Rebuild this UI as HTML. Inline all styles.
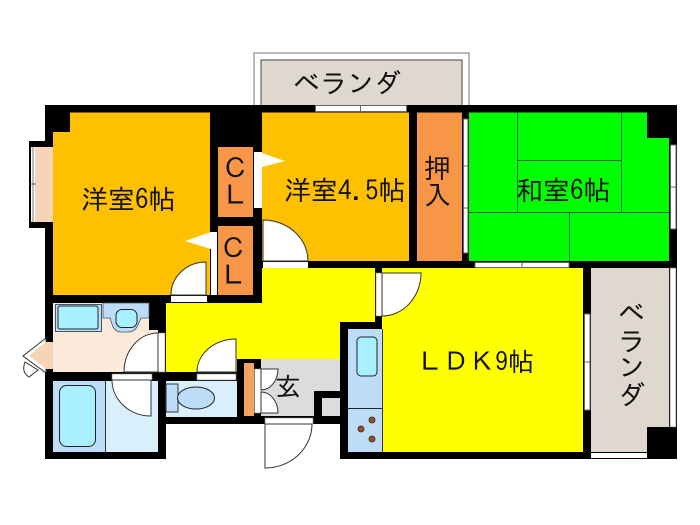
<!DOCTYPE html>
<html><head><meta charset="utf-8"><style>
html,body{margin:0;padding:0;background:#fff}
svg{display:block;filter:blur(.35px)}
text{font-family:"IPAGothic","Liberation Sans","Noto Sans CJK JP",sans-serif;font-size:27px;fill:#111}
</style></head><body>
<svg width="700" height="525" viewBox="0 0 700 525" xmlns="http://www.w3.org/2000/svg">
<!-- top veranda -->
<rect x="254" y="53" width="215" height="54" fill="#fff" stroke="#777" stroke-width="1"/>
<rect x="261" y="60" width="201" height="46" fill="#dfd8cf" stroke="#444" stroke-width="1"/>
<!-- building black -->
<polygon points="45,105 677,105 677,459 340,459 340,424 166,424 166,459 45,459" fill="#000"/>
<!-- left window -->
<rect x="29" y="141" width="17" height="87" fill="#000"/>
<rect x="31" y="147" width="22" height="75" fill="#fff"/>
<rect x="35" y="147" width="18" height="75" fill="#f5d5b5"/>
<line x1="33" y1="147" x2="33" y2="222" stroke="#777"/>
<line x1="30" y1="184" x2="36" y2="184" stroke="#555"/>
<!-- left door -->
<polygon points="46,338 23,356 46,373" fill="#fff" stroke="#333"/>
<polygon points="53,342 46,342 29,355.500 46,369 53,369" fill="#f5d5b5"/>
<path d="M25,362 Q21,372 29,377 L38,370 Z" fill="#fff" stroke="#333"/>
<!-- rooms -->
<polygon points="70,112.500 210,112.500 210,295 53,295 53,132 70,132" fill="#ffc000"/>
<rect x="262" y="112.500" width="147" height="148.500" fill="#ffc000"/>
<rect x="218" y="147" width="35" height="70" fill="#f79646"/>
<rect x="218" y="226" width="35" height="69" fill="#f79646"/>
<rect x="417" y="112.500" width="45" height="148.500" fill="#f79646"/>
<!-- green room -->
<polygon points="469,112.500 647,112.500 647,138 669,138 669,261 469,261" fill="#00ff00"/>
<g stroke="#063" stroke-width="1" fill="none">
<line x1="517.500" y1="112" x2="517.500" y2="212"/>
<line x1="621.500" y1="112" x2="621.500" y2="212"/>
<line x1="517" y1="160.500" x2="621" y2="160.500"/>
<line x1="469" y1="212.500" x2="669" y2="212.500"/>
<line x1="569.500" y1="212" x2="569.500" y2="261"/>
</g>
<!-- hall + LDK -->
<polygon points="166,303 262,303 262,268 375,268 375,322 340,322 340,359 237,359 237,372 166,372" fill="#ffff00"/>
<polygon points="382,268 583,268 583,452 382,452" fill="#ffff00"/>
<!-- right veranda -->
<polygon points="591,268 669,268 669,427 647,427 647,452 591,452" fill="#dfd8cf"/>
<rect x="670" y="268" width="6" height="159" fill="#fff" stroke="#666" stroke-width=".6"/>
<rect x="591" y="453" width="56" height="5" fill="#fff"/>
<!-- windows -->
<g fill="#fff" stroke="#666" stroke-width="1">
<rect x="315.500" y="105.500" width="91" height="6"/>
<rect x="463.500" y="119" width="4.500" height="134"/>
<rect x="670.500" y="145" width="5.500" height="84"/>
<rect x="475" y="262.500" width="94" height="5"/>
<rect x="584.500" y="314" width="5.500" height="96"/>
<path d="M360.500,105 V112 M463,166 H468 M463,208 H468 M670,187 H676 M522,262 V268 M584,362 H590" fill="none"/>
</g>
<!-- closet door strips & triangles -->
<rect x="211" y="232" width="6" height="63" fill="#fff"/>
<rect x="254" y="152" width="8" height="56" fill="#fff"/>
<polygon points="185,241 211,232 211,249" fill="#fff"/>
<polygon points="262,153 285,161 262,167" fill="#fff"/>
<!-- door room 1 -->
<rect x="171" y="296" width="36" height="6" fill="#fff"/>
<path d="M206,295 L171,295 A35,33 0 0 1 206,262 Z" fill="#fff" stroke="#333"/>
<!-- door room 4.5 -->
<rect x="263" y="262" width="45" height="6" fill="#fff"/>
<path d="M263,261 L263,220 A45,41 0 0 1 308,261 Z" fill="#fff" stroke="#333"/>
<!-- LDK door -->
<rect x="376" y="273" width="6" height="43" fill="#fff" stroke="#888" stroke-width=".6"/>
<path d="M382,273 L421,273 A39,43 0 0 1 382,316 Z" fill="#fff" stroke="#333"/>
<!-- wash room -->
<rect x="53" y="303" width="105" height="69" fill="#fbe9da"/>
<rect x="149" y="303" width="9" height="27" fill="#000"/>
<path d="M103,303 H149 V318 H141 L137,327 Q134,332 128,332 H121 Q116,332 113,327 L110,318 H103 Z" fill="#bcdcf8" stroke="#456" stroke-width=".8"/>
<rect x="116" y="309.500" width="21" height="18" rx="6" fill="#a8f0ff" stroke="#222"/>
<rect x="55.500" y="304.500" width="46" height="27" fill="#bcdcf8" stroke="#456"/>
<rect x="58" y="306" width="40" height="23" rx="2" fill="#a8f0ff" stroke="#222"/>
<rect x="158" y="333" width="7" height="39" fill="#fff" stroke="#888" stroke-width=".6"/>
<path d="M158,372 L124,372 A34,39 0 0 1 158,333 Z" fill="#fff" stroke="#333"/>
<!-- bath -->
<rect x="53" y="381" width="52" height="71" fill="#bcdcf8"/>
<rect x="105" y="381" width="53" height="71" fill="#d9f0fc"/>
<line x1="105.500" y1="381" x2="105.500" y2="452" stroke="#333"/>
<rect x="59.500" y="385.500" width="36" height="61" rx="7" fill="#a8f0ff" stroke="#222"/>
<rect x="112" y="374" width="40" height="6" fill="#fff" stroke="#888" stroke-width=".6"/>
<path d="M112,380 L151,380 L151,416 A39,36 0 0 1 112,380 Z" fill="#fff" stroke="#333"/>
<!-- WC -->
<rect x="166" y="381" width="71" height="36" fill="#d9f0fc"/>
<rect x="166" y="384" width="12" height="28" fill="#bcdcf8" stroke="#333"/>
<ellipse cx="196" cy="398" rx="18.500" ry="11" fill="#bcdcf8" stroke="#222"/>
<rect x="197" y="374" width="39" height="6" fill="#fff" stroke="#888" stroke-width=".6"/>
<path d="M236,372 L197,372 A39,33 0 0 1 236,339 Z" fill="#fff" stroke="#333"/>
<!-- genkan -->
<rect x="261" y="359" width="79" height="32" fill="#dcdcdc"/>
<rect x="261" y="391" width="53" height="25" fill="#dcdcdc"/>
<rect x="322" y="398" width="18" height="18" fill="#dcdcdc"/>
<rect x="244" y="363" width="10" height="53" fill="#f4a460"/>
<rect x="254.500" y="369" width="6.500" height="44" fill="#fff" stroke="#888" stroke-width=".6"/>
<path d="M261,369 H278 A17,21 0 0 1 261,390 Z" fill="#fff" stroke="#333"/>
<path d="M261,413 H278 A17,21 0 0 0 261,392 Z" fill="#fff" stroke="#333"/>
<rect x="265" y="418" width="48" height="6" fill="#fff" stroke="#888" stroke-width=".6"/>
<path d="M265,424 H312 A47,44 0 0 1 265,468 Z" fill="#fff" stroke="#333"/>
<!-- kitchen -->
<rect x="348" y="329" width="34" height="123" fill="#bcdcf8"/>
<line x1="348" y1="408.500" x2="382" y2="408.500" stroke="#222"/>
<line x1="382.500" y1="329" x2="382.500" y2="452" stroke="#333"/>
<rect x="357" y="337" width="20" height="39" rx="4" fill="#a8f0ff" stroke="#222"/>
<g fill="#a0521d" stroke="#222" stroke-width=".8">
<circle cx="372" cy="420" r="3"/>
<circle cx="361" cy="429" r="3"/>
<circle cx="372" cy="439" r="3"/>
</g>
<!-- labels -->
<text x="81" y="209">洋室6帖</text>
<text x="284" y="200">洋室4.5帖</text>
<text x="516" y="200">和室6帖</text>
<text x="417" y="371" style="font-size:26px">ＬＤＫ9帖</text>
<text x="293" y="93">ベランダ</text>
<text x="222" y="178">Ｃ</text>
<text x="222" y="205">Ｌ</text>
<text x="220" y="258">Ｃ</text>
<text x="220" y="285">Ｌ</text>
<text x="424" y="178">押</text>
<text x="424" y="205">入</text>
<text x="275" y="396" style="font-size:26px">玄</text>
<text x="618" y="323">ベ</text>
<text x="618" y="351">ラ</text>
<text x="618" y="377">ン</text>
<text x="618" y="405">ダ</text>
</svg>
</body></html>
